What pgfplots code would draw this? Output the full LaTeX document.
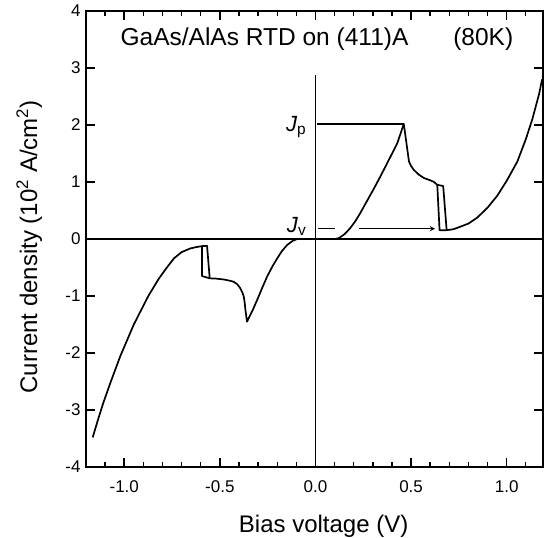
\documentclass[border=0pt]{standalone}
\usepackage{pgfplots}
\pgfplotsset{compat=1.18}
\usepackage{fontspec}
\setmainfont{Liberation Sans}
\begin{document}
\begin{tikzpicture}
\begin{axis}[
    scale only axis,
    width=457pt, height=456pt,
    xmin=-1.2, xmax=1.19,
    ymin=-4, ymax=4,
    xtick={-1,-0.5,0,0.5,1},
    minor xtick={-1.1,-0.9,-0.8,-0.7,-0.6,-0.4,-0.3,-0.2,-0.1,0.1,0.2,0.3,0.4,0.6,0.7,0.8,0.9,1.1},
    ytick={-4,-3,-2,-1,0,1,2,3,4},
    tick align=inside,
    major tick length=9pt,
    minor tick length=5pt,
    every major tick/.append style={line width=1.6pt, black},
    every minor tick/.append style={line width=1.4pt, black},
    axis line style={line width=1.6pt},
    xticklabels={-1.0,-0.5,0.0,0.5,1.0},
    yticklabels={-4,-3,-2,-1,0,1,2,3,4},
    tick label style={font=\fontsize{17}{20}\selectfont},
    x tick label style={yshift=-10pt},
    y tick label style={xshift=-2pt},
    xlabel={Bias voltage (V)},
    ylabel={Current density (10\textsuperscript{2} A/cm\textsuperscript{2})},
    label style={font=\fontsize{24}{28}\selectfont},
    xlabel style={at={(axis description cs:0.52,0)}, anchor=base, yshift=-66pt},
    ylabel style={at={(axis description cs:-0.107,0.4825)}, anchor=base, rotate=0},
]
\coordinate (bl) at (rel axis cs:0,0);
\coordinate (tr) at (rel axis cs:1,1);

% zero lines
\draw[line width=1.5pt] (axis cs:-1.2,0) -- (axis cs:1.19,0);
\draw[line width=1.6pt] (axis cs:0,-4) -- (axis cs:0,2.87);

% I-V curve
\addplot[line width=1.7pt, line join=round, no marks] coordinates {
(-1.165,-3.48) (-1.14,-3.2) (-1.11,-2.88) (-1.07,-2.5) (-1.02,-2.05)
(-0.95,-1.5) (-0.874,-1.0) (-0.82,-0.7) (-0.777,-0.5) (-0.74,-0.34)
(-0.70,-0.23) (-0.654,-0.165) (-0.62,-0.14)
(-0.593,-0.125) (-0.593,-0.65) (-0.553,-0.69) (-0.52,-0.695) (-0.48,-0.71)
(-0.45,-0.73) (-0.428,-0.75) (-0.41,-0.79) (-0.393,-0.865) (-0.382,-0.94)
(-0.375,-1.01) (-0.37,-1.12) (-0.366,-1.25) (-0.358,-1.45) (-0.33,-1.26)
(-0.305,-1.07) (-0.28,-0.87) (-0.253,-0.66) (-0.225,-0.48) (-0.2,-0.34)
(-0.175,-0.21) (-0.148,-0.105) (-0.12,-0.035) (-0.096,0) (0.105,0)
(0.125,0.02) (0.149,0.077) (0.165,0.13) (0.183,0.196) (0.21,0.32)
(0.236,0.464) (0.27,0.67) (0.305,0.88) (0.34,1.1) (0.375,1.33)
(0.428,1.68) (0.462,2.02) (0.489,1.36) (0.5,1.28) (0.515,1.21)
(0.54,1.13) (0.567,1.07) (0.6,1.03) (0.62,1.0) (0.637,0.95)
(0.649,0.155) (0.686,0.155) (0.72,0.17) (0.742,0.196) (0.8,0.27)
(0.846,0.375) (0.9,0.55) (0.951,0.76) (1.0,1.02) (1.056,1.36)
(1.1,1.75) (1.134,2.1) (1.17,2.55) (1.185,2.8)
};
% hysteresis returns
\addplot[line width=1.7pt, line join=round, no marks] coordinates {
(-0.593,-0.125) (-0.567,-0.12) (-0.553,-0.69)
};
\addplot[line width=1.7pt, line join=round, no marks] coordinates {
(0.637,0.95) (0.668,0.93) (0.686,0.155)
};

% peak and valley markers
\draw[line width=1.3pt] (axis cs:0.01,2.02) -- (axis cs:0.462,2.02);
\draw[line width=1.3pt] (axis cs:0.015,0.18) -- (axis cs:0.1,0.18);
\draw[line width=1.3pt, -stealth] (axis cs:0.226,0.18) -- (axis cs:0.625,0.18);
\node[anchor=base east, font=\fontsize{22}{24}\selectfont, inner sep=0pt] at (axis cs:-0.047,1.88) {\textit{J}\textsubscript{p}};
\node[anchor=base east, font=\fontsize{22}{24}\selectfont, inner sep=0pt] at (axis cs:-0.047,0.12) {\textit{J}\textsubscript{v}};

% title
\node[anchor=base west, font=\fontsize{24.5}{27}\selectfont, inner sep=0pt] at (axis cs:-1.02,3.39) {GaAs/AlAs RTD on (411)A};
\node[anchor=base west, font=\fontsize{24.5}{27}\selectfont, inner sep=0pt] at (axis cs:0.72,3.39) {(80K)};
\end{axis}
\pgfresetboundingbox
\path (bl) ++(-86pt,-71pt) rectangle ([shift={(5pt,11pt)}]tr);
\end{tikzpicture}
\end{document}
